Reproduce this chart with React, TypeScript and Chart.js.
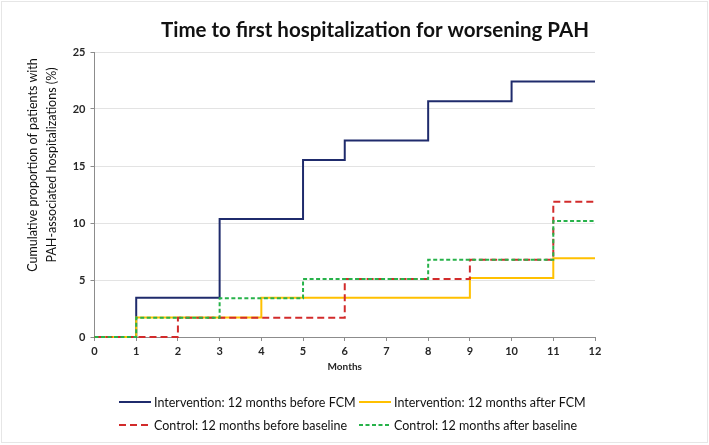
import React, { useEffect, useRef } from "react";
import { Chart, registerables } from "chart.js";

Chart.register(...registerables);

// ---- Data ----
const chartTitle = "Time to first hospitalization for worsening PAH";
const yTitleLines = ["Cumulative proportion of patients with", "PAH-associated hospitalizations (%)"];
const xTitle = "Months";

const months = [0, 1, 2, 3, 4, 5, 6, 7, 8, 9, 10, 11, 12];
const yTickValues = [0, 5, 10, 15, 20, 25];

const seriesLabels = [
  "Intervention: 12 months before FCM",
  "Intervention: 12 months after FCM",
  "Control: 12 months before baseline",
  "Control: 12 months after baseline",
];

// cumulative % at each month (value after any step at that month)
const interventionBefore = [0, 3.45, 3.45, 10.34, 10.34, 15.52, 17.24, 17.24, 20.69, 20.69, 22.41, 22.41, 22.41];
const interventionAfter = [0, 1.72, 1.72, 1.72, 3.45, 3.45, 3.45, 3.45, 3.45, 5.17, 5.17, 6.9, 6.9];
const controlBefore = [0, 0, 1.69, 1.69, 1.69, 1.69, 5.08, 5.08, 5.08, 6.78, 6.78, 11.86, 11.86];
const controlAfter = [0, 1.69, 1.69, 3.39, 3.39, 5.08, 5.08, 5.08, 6.78, 6.78, 6.78, 10.17, 10.17];

// ---- Styles ----
const FONT = "Lato, 'Open Sans', sans-serif";
const colors = ["#1F2B6C", "#FFC000", "#D22B2B", "#27B24A"];
const dashes: number[][] = [[], [], [7, 4], [4, 2.5]];
const widths = [2, 2, 2, 2];
const drawOrder = [3, 2, 1, 0];

const toPoints = (vals: number[]) => months.map((m, i) => ({ x: m, y: vals[i] }));

const decorPlugin = {
  id: "decor",
  beforeDraw(chart: any) {
    const ctx = chart.ctx;
    ctx.save();
    ctx.fillStyle = "#ffffff";
    ctx.fillRect(0, 0, chart.width, chart.height);
    ctx.restore();
  },
  afterDraw(chart: any) {
    const ctx = chart.ctx;
    const area = chart.chartArea;
    ctx.save();
    // frame
    ctx.strokeStyle = "#E6E6E6";
    ctx.lineWidth = 1;
    ctx.strokeRect(1.5, 1.5, chart.width - 3, chart.height - 4);

    // title
    ctx.fillStyle = "#111111";
    ctx.font = `bold 20.5px ${FONT}`;
    ctx.textAlign = "center";
    ctx.textBaseline = "middle";
    ctx.fillText(chartTitle, 375, 30);

    // y title
    ctx.save();
    ctx.translate(33, 165);
    ctx.rotate(-Math.PI / 2);
    ctx.font = `12.5px ${FONT}`;
    ctx.fillStyle = "#111111";
    ctx.fillText(yTitleLines[0], 0, 0);
    ctx.fillText(yTitleLines[1], 0, 19);
    ctx.restore();

    // x title
    ctx.font = `bold 10px ${FONT}`;
    ctx.fillStyle = "#262626";
    ctx.fillText(xTitle, (area.left + area.right) / 2, 367);

    // legend
    const cols = [119, 359];
    const rows = [402, 425];
    ctx.font = `12.5px ${FONT}`;
    ctx.textAlign = "left";
    seriesLabels.forEach((label, i) => {
      const cx = cols[i % 2];
      const cy = rows[Math.floor(i / 2)];
      ctx.beginPath();
      ctx.strokeStyle = colors[i];
      ctx.lineWidth = widths[i];
      ctx.setLineDash(dashes[i]);
      ctx.moveTo(cx, cy);
      ctx.lineTo(cx + 32, cy);
      ctx.stroke();
      ctx.setLineDash([]);
      ctx.fillStyle = "#111111";
      ctx.fillText(label, cx + 35, cy + 1);
    });
    ctx.restore();
  },
};

export default function App() {
  const canvasRef = useRef<HTMLCanvasElement | null>(null);

  useEffect(() => {
    if (!canvasRef.current) return;
    const seriesValues = [interventionBefore, interventionAfter, controlBefore, controlAfter];
    const chart = new Chart(canvasRef.current, {
      type: "line",
      data: {
        datasets: seriesValues.map((vals, i) => ({
          label: seriesLabels[i],
          data: toPoints(vals),
          borderColor: colors[i],
          backgroundColor: colors[i],
          borderWidth: widths[i],
          borderDash: dashes[i],
          stepped: "before" as const,
          pointRadius: 0,
          fill: false,
          clip: 6,
          order: drawOrder[i],
        })),
      },
      options: {
        responsive: false,
        animation: false,
        devicePixelRatio: 1,
        layout: { padding: { top: 52, right: 114, bottom: 80, left: 0 } },
        plugins: {
          legend: { display: false },
          title: { display: false },
          tooltip: { enabled: false },
        },
        scales: {
          x: {
            type: "linear",
            min: months[0],
            max: months[months.length - 1],
            afterFit: (scale: any) => {
              scale.height = 28;
            },
            afterBuildTicks: (scale: any) => {
              scale.ticks = months.map((m) => ({ value: m }));
            },
            ticks: {
              font: { family: FONT, size: 11, weight: "bold" },
              color: "#262626",
              padding: 4,
              maxRotation: 0,
              autoSkip: false,
            },
            grid: {
              drawOnChartArea: false,
              drawTicks: true,
              tickLength: 4,
              tickColor: "#8C8C8C",
            },
            border: { color: "#8C8C8C", width: 1 },
          },
          y: {
            type: "linear",
            min: yTickValues[0],
            max: yTickValues[yTickValues.length - 1],
            afterFit: (scale: any) => {
              scale.width = 94.5;
            },
            afterBuildTicks: (scale: any) => {
              scale.ticks = yTickValues.map((v) => ({ value: v }));
            },
            ticks: {
              font: { family: FONT, size: 11, weight: "bold" },
              color: "#262626",
              padding: 5,
            },
            grid: {
              color: "#E3E3E3",
              lineWidth: 1,
              drawTicks: true,
              tickLength: 4,
              tickColor: "#8C8C8C",
            },
            border: { color: "#8C8C8C", width: 1 },
          },
        },
      },
      plugins: [decorPlugin],
    });
    return () => chart.destroy();
  }, []);

  return (
    <div style={{ position: "fixed", left: 0, top: 0, width: 709, height: 445, background: "#fff" }}>
      <canvas ref={canvasRef} width={709} height={445} style={{ display: "block", width: 709, height: 445 }} />
    </div>
  );
}
